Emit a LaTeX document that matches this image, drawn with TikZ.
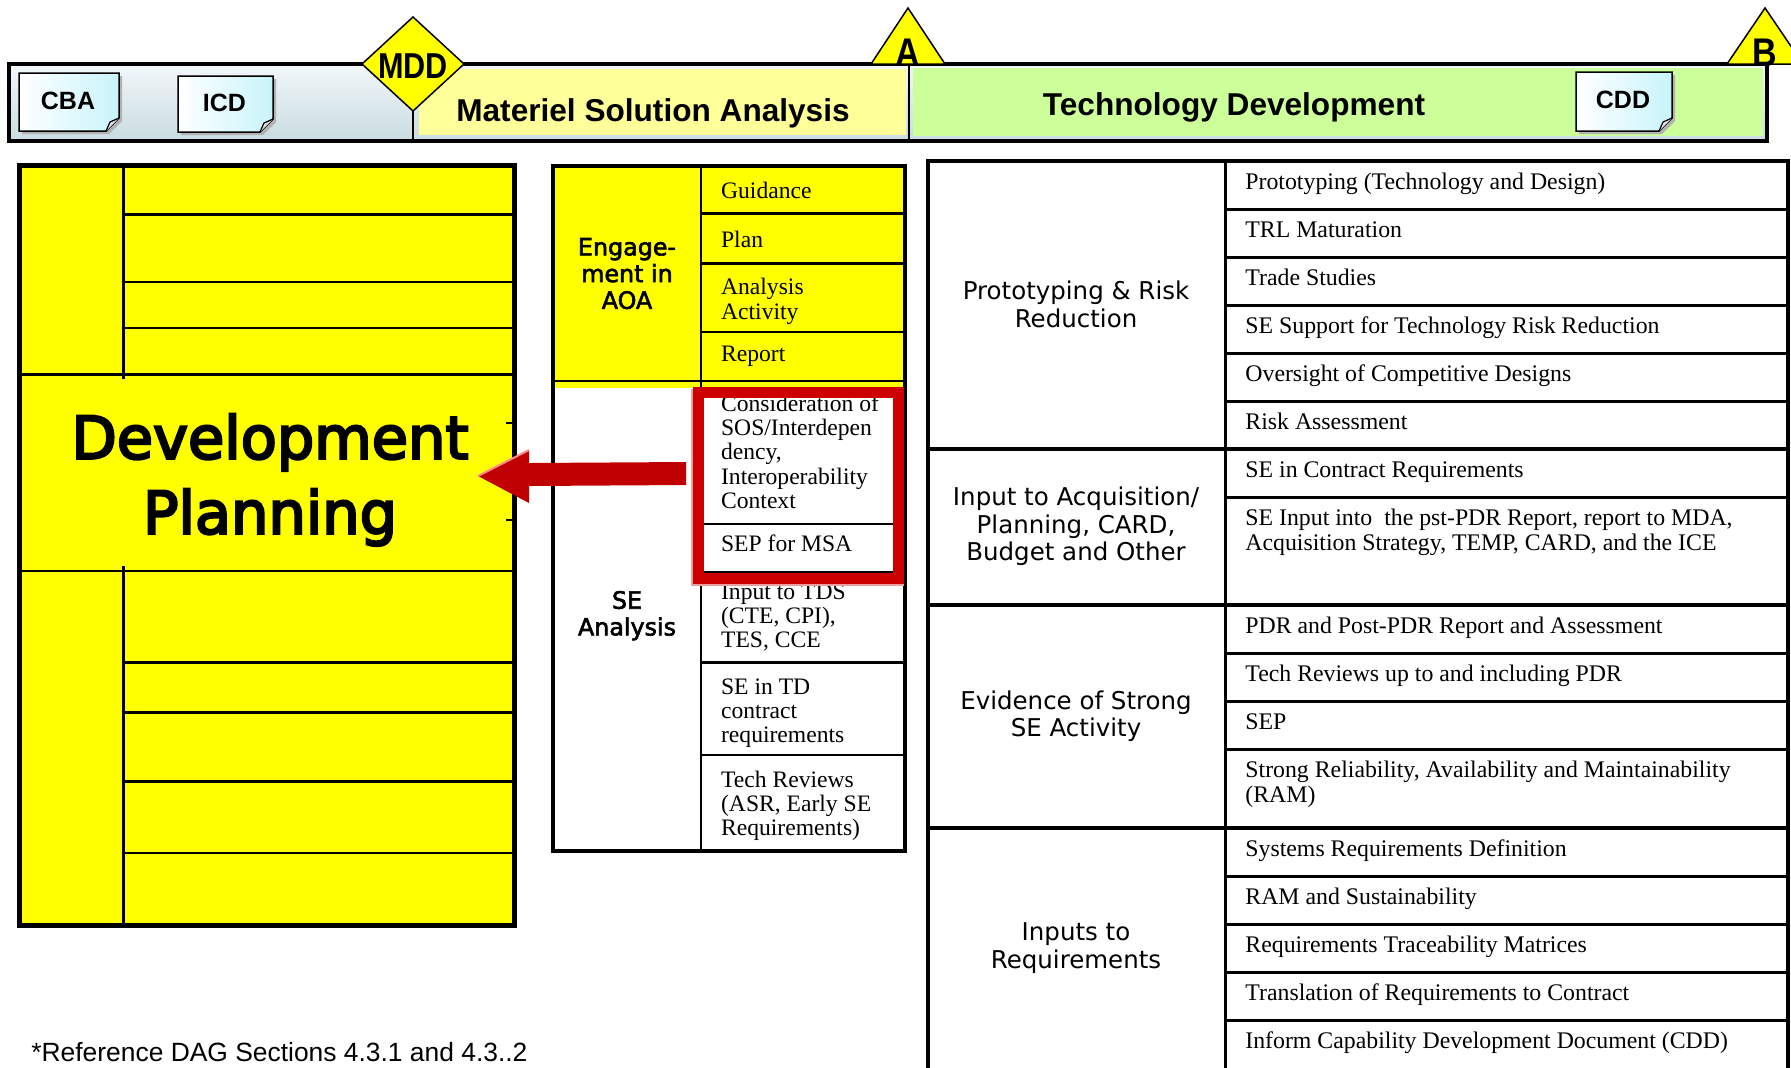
\documentclass[tikz,border=0pt]{standalone}
\usepackage{fontspec}
\setmainfont{Liberation Serif}
\newfontfamily\dvs{DejaVu Sans}
\newfontfamily\dvsfb[FakeBold=2.5]{DejaVu Sans}
\newfontfamily\dvsbig[FakeBold=4]{DejaVu Sans}
\newfontfamily\lib{Liberation Sans}
\newfontfamily\libn[FakeStretch=0.85]{Liberation Sans}
\usetikzlibrary{calc}
\definecolor{ylw}{HTML}{FFFF00}
\definecolor{msay}{HTML}{FFFF99}
\definecolor{tdg}{HTML}{CCFF99}
\definecolor{redbox}{HTML}{CC0000}
\definecolor{redshadow}{HTML}{E8A0A0}
\definecolor{arrred}{HTML}{C00000}
\definecolor{bartop}{HTML}{F2F7F9}
\definecolor{barbot}{HTML}{C9DCE1}
\definecolor{doccyan}{HTML}{C8F4FA}
\newcommand\docicon[6]{%
  \fill[black!30] ({#2+3},{#3+3}) -- ({#4+3},{#3+3}) -- ({#4+3},{#5+3-13}) -- ({#4+3-13},{#5+3}) -- ({#2+3},{#5+3}) -- cycle;
  \draw[line width=0.75pt,left color=white,right color=doccyan] (#2,#3) -- (#4,#3) -- (#4,{#5-13}) -- ({#4-13},#5) -- (#2,#5) -- cycle;
  \filldraw[fill=black!12,line width=0.6pt] (#4,{#5-13}) -- ({#4-9},{#5-9}) -- ({#4-13},#5);
  \node[doctxt] (#1) at ({(#2+#4)/2-1},{(#3+#5)/2-1.5}) {#6};
}
\begin{document}
\begin{tikzpicture}[x=0.5pt,y=-0.5pt,
  thinl/.style={line width=1.25pt},
  thickl/.style={line width=2pt},
  doctxt/.style={inner sep=0pt,font=\lib\bfseries\fontsize{12.5}{14}\selectfont},
  ttl/.style={anchor=base,inner sep=0pt,font=\lib\bfseries\fontsize{15.8}{18}\selectfont},
  mile/.style={anchor=base,inner sep=0pt,font=\libn\bfseries\fontsize{20}{22}\selectfont},
  mtxt/.style={anchor=north west,inner sep=0pt,align=left,font=\fontsize{11.8}{12.1}\selectfont},
  rtxt/.style={anchor=north west,inner sep=0pt,align=left,font=\fontsize{11.9}{12.5}\selectfont},
  grp/.style={inner sep=0pt,align=center,font=\dvs\fontsize{12.25}{13.7}\selectfont},
  lbl/.style={anchor=north,inner sep=0pt,align=center,font=\dvsfb\fontsize{11.9}{13.35}\selectfont}
]
\useasboundingbox (0,0) rectangle (1791,1067);
\clip (0,0) rectangle (1791,1067);
\fill[white] (0,0) rectangle (1791,1067);

% ---------- top bar ----------
\shade[top color=bartop,bottom color=barbot] (9,64) rectangle (1767,141);
\fill[msay] (419,69) rectangle (906,135);
\fill[tdg] (913,68) rectangle (1763,136);
\draw[line width=1.25pt] (909,64) -- (909,141);
\draw[line width=1pt] (413,100) -- (413,141);
\draw[thickl] (9,64) rectangle (1767,141);

\docicon{cba}{19}{73}{119}{131}{CBA}
\docicon{icd}{178}{76}{273}{132}{ICD}
\docicon{cdd}{1576}{72}{1672}{131}{CDD}

\filldraw[fill=ylw,line width=0.75pt] (413,17) -- (464,64) -- (413,111) -- (362,64) -- cycle;
\node[anchor=base,inner sep=0pt,font=\libn\bfseries\fontsize{18}{20}\selectfont] (mdd) at (413,78) {MDD};
\filldraw[fill=ylw,line width=0.75pt] (871,64) -- (908,8) -- (945,64) -- cycle;
\node[mile] (msA) at (908,66) {A};
\filldraw[fill=ylw,line width=0.75pt] (1727,64) -- (1765,8) -- (1803,64) -- cycle;
\node[mile] (msB) at (1765,66) {B};

\node[ttl] (msa) at (653,121) {Materiel Solution Analysis};
\node[ttl] (td) at (1234,115) {Technology Development};

% ---------- Development Planning block ----------
\fill[ylw] (19.4,165.6) rectangle (514,925.2);
\draw[thinl] (123.4,165.6) -- (123.4,379);
\draw[thinl] (123.4,566) -- (123.4,925.2);
\foreach \yy in {214.7,282.1,327.8,662.5,712.7,781.3,853.2}
  \draw[thinl] (123.4,\yy) -- (514,\yy);
\draw[thinl] (19.4,374.6) -- (514,374.6);
\draw[thinl] (19.4,571.1) -- (514,571.1);
\draw[thinl] (506,423) -- (514,423);
\draw[thinl] (506,520) -- (514,520);
\draw[line width=2.5pt] (19.4,165.6) rectangle (514,925.2);
\node[anchor=north,inner sep=0pt,align=center,font=\dvsbig\fontsize{29.5}{37.5}\selectfont] (devplan) at (270,405.8) {\strut Development\\Planning};

% ---------- MSA middle block ----------
\fill[ylw] (553,165.6) rectangle (905,388);
\draw[thinl] (700.9,165.6) -- (700.9,851);
\foreach \yy in {213.6,263.3,332,662.5,755}
  \draw[thinl] (700.9,\yy) -- (905,\yy);
\draw[thinl] (553,381) -- (905,381);
\draw[thickl] (553,165.6) rectangle (905,851);

\node[lbl] (eng) at (627,236.3) {\strut Engage-\\ment in\\AOA};
\node[lbl] (sea) at (627,589.6) {\strut SE\\Analysis};

\node[mtxt] (m1) at (720.7,181.1) {\strut Guidance};
\node[mtxt] (m2) at (720.7,230.1) {\strut Plan};
\node[mtxt] (m3) at (720.7,277.6) {\strut Analysis\\Activity};
\node[mtxt] (m4) at (720.7,344.1) {\strut Report};
\node[mtxt] (m5) at (720.7,394.1) {\strut Consideration of\\SOS/Interdepen\\dency,\\Interoperability\\Context};
\node[mtxt] (m6) at (720.7,534.5) {\strut SEP for MSA};
\node[mtxt] (m7) at (720.7,582.1) {\strut Input to TDS\\(CTE, CPI),\\TES, CCE};
\node[mtxt] (m8) at (720.7,676.7) {\strut SE in TD\\contract\\requirements};
\node[mtxt] (m9) at (720.7,769.8) {\strut Tech Reviews\\(ASR, Early SE\\Requirements)};

\draw[line width=1pt] (703,524) -- (896,524);
\draw[line width=1pt] (703,572) -- (896,572);
\fill[redshadow] (691,389) rectangle (694,586);
\fill[redshadow] (691,583) rectangle (904,586);
\draw[redbox,line width=5.5pt] (698.5,392.5) rectangle (898.5,578.5);

% red arrow
\coordinate (atip) at (478,476);
\coordinate (atail) at (686,473.5);
\fill[arrred] (atip) -- ($(atip)+(51,-26)$) -- ($(atip)+(51,-13)$) -- ($(atail)+(0,-11.5)$) -- ($(atail)+(0,11.5)$) -- ($(atip)+(51,10)$) -- ($(atip)+(51,27)$) -- cycle;
\draw[red!45!white,line width=1pt] (atip) -- ($(atip)+(51,-26)$);

% ---------- TD right table ----------
\draw[thinl] (1225.6,161) -- (1225.6,1075);
\foreach \yy in {209,257,305,353,401,497,653,701,749,876,924,972,1020}
  \draw[line width=1.5pt] (1225.6,\yy) -- (1787.5,\yy);
\foreach \yy in {449,605,828}
  \draw[thickl] (927.5,\yy) -- (1787.5,\yy);
\draw[thickl] (927.5,161) rectangle (1787.5,1075);

\node[grp] (gA) at (1076,304.5) {Prototyping \& Risk\\Reduction};
\node[grp] (gB) at (1076,526.5) {Input to Acquisition/\\Planning, CARD,\\Budget and Other};
\node[grp] (gC) at (1076,716) {Evidence of Strong\\SE Activity};
\node[grp] (gD) at (1076,948) {Inputs to\\Requirements};

\node[rtxt] (r1) at (1245,172) {\strut Prototyping (Technology and Design)};
\node[rtxt] (r2) at (1245,220) {\strut TRL Maturation};
\node[rtxt] (r3) at (1245,268) {\strut Trade Studies};
\node[rtxt] (r4) at (1245,316) {\strut SE Support for Technology Risk Reduction};
\node[rtxt] (r5) at (1245,364) {\strut Oversight of Competitive Designs};
\node[rtxt] (r6) at (1245,412) {\strut Risk Assessment};
\node[rtxt] (r7) at (1245,460) {\strut SE in Contract Requirements};
\node[rtxt] (r8) at (1245,508) {\strut SE Input into\ \ the pst-PDR Report, report to MDA,\\Acquisition Strategy, TEMP, CARD, and the ICE};
\node[rtxt] (r9) at (1245,616) {\strut PDR and Post-PDR Report and Assessment};
\node[rtxt] (r10) at (1245,664) {\strut Tech Reviews up to and including PDR};
\node[rtxt] (r11) at (1245,712) {\strut SEP};
\node[rtxt] (r12) at (1245,760) {\strut Strong Reliability, Availability and Maintainability\\(RAM)};
\node[rtxt] (r13) at (1245,839) {\strut Systems Requirements Definition};
\node[rtxt] (r14) at (1245,887) {\strut RAM and Sustainability};
\node[rtxt] (r15) at (1245,935) {\strut Requirements Traceability Matrices};
\node[rtxt] (r16) at (1245,983) {\strut Translation of Requirements to Contract};
\node[rtxt] (r17) at (1245,1031) {\strut Inform Capability Development Document (CDD)};

% footnote
\node[anchor=base west,inner sep=0pt,font=\lib\fontsize{13.2}{15}\selectfont] (refnote) at (31,1061.5) {*Reference DAG Sections 4.3.1 and 4.3..2};
\end{tikzpicture}
\end{document}
